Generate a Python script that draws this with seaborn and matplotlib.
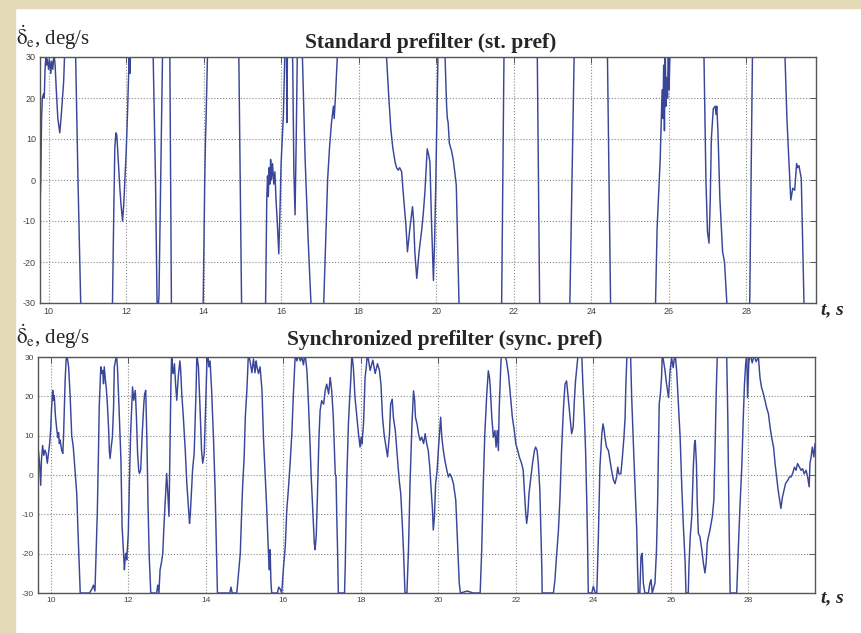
import matplotlib
matplotlib.use('Agg')
from matplotlib import pyplot as plt
from matplotlib.patches import Rectangle
import seaborn as sns

# (time s, elevator rate deg/s); values beyond +-30 are clipped by the axes
std_points = [
    (9.78, -7), (9.80, 0), (9.82, 15), (9.84, 20), (9.87, 21), (9.89, 20), (9.91, 27), (9.93, 30),
    (9.95, 28), (9.98, 29.5), (10.00, 27), (10.03, 29), (10.06, 26), (10.08, 29), (10.11, 27),
    (10.14, 31), (10.17, 28), (10.20, 22), (10.24, 15), (10.29, 11.5), (10.33, 16), (10.36, 20),
    (10.39, 24), (10.42, 32), (10.50, 45), (10.65, 45), (10.70, 30), (10.76, 0), (10.83, -30),
    (10.90, -45), (11.55, -45), (11.65, -30), (11.68, -10), (11.71, 8), (11.74, 11.5), (11.76, 11),
    (11.78, 8), (11.81, 3), (11.84, -2), (11.87, -6), (11.91, -10), (11.94, -6), (11.97, 0),
    (12.00, 6), (12.03, 14), (12.06, 24), (12.08, 30), (12.10, 26), (12.12, 32), (12.20, 45),
    (12.60, 45), (12.70, 30), (12.76, 0), (12.80, -30), (12.82, -33), (12.85, -28), (12.94, 30),
    (13.00, 45), (13.08, 45), (13.13, 30), (13.17, -30), (13.25, -45), (13.90, -45), (13.99, -30),
    (14.03, 0), (14.05, 10), (14.06, 13), (14.10, 30), (14.20, 45), (14.85, 45), (14.91, 30),
    (14.98, -30), (15.05, -45), (15.52, -45), (15.60, -30), (15.63, -5), (15.65, 1), (15.67, -4),
    (15.69, 3), (15.71, -1), (15.73, 5), (15.75, 0), (15.78, 4), (15.81, -1), (15.84, 2),
    (15.87, -5), (15.90, -10), (15.94, -18), (15.97, -8), (16.00, 4), (16.03, 10), (16.06, 16),
    (16.10, 32), (16.13, 45), (16.15, 14), (16.17, 40), (16.25, 45), (16.30, 28), (16.33, 2),
    (16.36, -8.5), (16.39, 10), (16.42, 32), (16.50, 40), (16.55, 30), (16.62, 5), (16.70, -15),
    (16.78, -32), (16.85, -45), (17.00, -45), (17.10, -30), (17.15, -15), (17.20, 0), (17.25, 8),
    (17.30, 14), (17.35, 18), (17.37, 15), (17.40, 20), (17.45, 30), (17.50, 45), (18.65, 45),
    (18.72, 30), (18.78, 20), (18.83, 12.5), (18.88, 8), (18.94, 4.4), (18.98, 3), (19.02, 2.4),
    (19.06, 3), (19.11, 2), (19.15, -3), (19.22, -11), (19.26, -17.5), (19.32, -12), (19.39, -6.5),
    (19.42, -10), (19.45, -17.5), (19.50, -24), (19.56, -17.5), (19.63, -12), (19.67, -8),
    (19.71, -3), (19.77, 7.6), (19.81, 6), (19.84, 4.4), (19.88, -10), (19.93, -24.5), (19.96, -15),
    (19.99, -1.3), (20.02, 15), (20.05, 32), (20.10, 45), (20.18, 45), (20.23, 30), (20.27, 18),
    (20.29, 15), (20.31, 14), (20.34, 9), (20.37, 8), (20.40, 7), (20.44, 5), (20.48, 2),
    (20.52, -1.3), (20.59, -30), (20.65, -45), (21.60, -45), (21.69, -30), (21.75, 30), (21.80, 45),
    (22.55, 45), (22.61, 30), (22.67, -30), (22.75, -45), (23.35, -45), (23.45, -30), (23.56, 30),
    (23.65, 45), (24.35, 45), (24.42, 30), (24.50, -30), (24.60, -45), (25.55, -45), (25.66, -30),
    (25.70, -12), (25.75, -1), (25.78, 5), (25.80, 11.5), (25.83, 22), (25.85, 15), (25.87, 28),
    (25.89, 12), (25.91, 32), (25.93, 18), (25.95, 25), (25.97, 20), (25.99, 33), (26.01, 22),
    (26.03, 30), (26.05, 35), (26.10, 45), (26.85, 45), (26.91, 30), (26.96, 0), (27.00, -12.6),
    (27.04, -15.4), (27.07, -5.7), (27.10, 10), (27.15, 17.4), (27.20, 18), (27.22, 16),
    (27.24, 18), (27.27, 12), (27.32, -4.5), (27.39, -17.5), (27.44, -20), (27.50, -30),
    (27.60, -45), (28.00, -45), (28.09, -30), (28.16, 30), (28.25, 45), (28.90, 45), (29.00, 30),
    (29.05, 15), (29.09, 6.8), (29.15, -4.9), (29.20, -2), (29.25, -2.5), (29.30, 4), (29.33, 3),
    (29.36, 3.5), (29.42, 0.4), (29.49, -30), (29.55, -45), (29.80, -45),
]

sync_points = [
    (9.68, 6.3), (9.71, 3), (9.74, -2.6), (9.76, 4), (9.79, 7.5), (9.82, 5), (9.85, 6.3),
    (9.88, 5.5), (9.91, 3), (9.94, 5.5), (9.97, 8), (10.00, 12), (10.02, 17), (10.05, 21.5),
    (10.07, 19), (10.09, 20.2), (10.12, 15), (10.15, 12), (10.18, 9.5), (10.20, 10.8), (10.22, 8),
    (10.24, 8.9), (10.28, 6.3), (10.31, 5.5), (10.33, 10), (10.35, 17.3), (10.37, 24),
    (10.39, 28.3), (10.41, 31), (10.44, 29), (10.46, 27.5), (10.50, 20), (10.54, 10), (10.58, 7.2),
    (10.63, 0.4), (10.67, -4.7), (10.71, -16.5), (10.76, -30), (10.95, -30), (11.00, -30),
    (11.06, -29), (11.10, -28), (11.14, -29.5), (11.17, -19.9), (11.20, -9.7), (11.23, 5.5),
    (11.25, 17.3), (11.29, 27.5), (11.32, 25.8), (11.34, 26.6), (11.36, 23.2), (11.38, 27.5),
    (11.41, 24), (11.43, 22.4), (11.46, 18.1), (11.49, 12.2), (11.51, 6.3), (11.53, 4.2),
    (11.56, 7.2), (11.59, 9.7), (11.62, 17.3), (11.64, 27.5), (11.68, 29.6), (11.69, 31),
    (11.72, 27.5), (11.76, 17.3), (11.81, 3.8), (11.84, -13.1), (11.88, -20.7), (11.90, -24.1),
    (11.92, -21), (11.94, -19.9), (11.96, -21.6), (12.00, -14.8), (12.03, -1.3), (12.06, 10.6),
    (12.09, 18), (12.11, 22.4), (12.14, 19), (12.16, 20.3), (12.18, 21.5), (12.21, 14.8),
    (12.24, 5.5), (12.27, 1), (12.29, 0.4), (12.32, 1.3), (12.36, 10.6), (12.40, 18), (12.42, 20.6),
    (12.45, 21.5), (12.48, 8.9), (12.51, -8), (12.54, -20.7), (12.58, -30), (12.73, -30),
    (12.76, -28), (12.79, -30), (12.82, -24.1), (12.86, -22), (12.89, -19.9), (12.92, -13),
    (12.96, -5.5), (12.99, 0.4), (13.02, -4.7), (13.05, -10.5), (13.08, 8.9), (13.10, 23.2),
    (13.12, 31), (13.14, 27), (13.16, 25.8), (13.19, 28.3), (13.22, 23.2), (13.25, 19),
    (13.29, 25), (13.33, 29), (13.35, 27), (13.38, 20.6), (13.42, 14.8), (13.47, 6.3),
    (13.51, -2.1), (13.55, -8), (13.58, -12.3), (13.60, -10), (13.62, -6), (13.66, 1.5),
    (13.70, 5.5), (13.72, 12), (13.75, 22), (13.77, 31), (13.79, 29), (13.81, 27.5), (13.85, 17.3),
    (13.89, 6.3), (13.92, 3), (13.96, 5.5), (13.99, 15.5), (14.03, 29), (14.05, 31), (14.08, 27.5),
    (14.11, 29), (14.15, 21.5), (14.20, 8.9), (14.24, -3.8), (14.27, -16.5), (14.30, -30),
    (14.62, -30), (14.65, -28.5), (14.68, -30), (14.80, -30), (14.89, -19.9), (14.93, -8),
    (14.95, -3), (14.99, 4.6), (15.02, 14.8), (15.06, 21.5), (15.10, 31), (15.14, 29), (15.19, 26),
    (15.23, 29.5), (15.27, 26), (15.30, 29), (15.32, 27.5), (15.36, 25.8), (15.40, 27.5),
    (15.45, 21.5), (15.49, 8.9), (15.53, 0.4), (15.57, -8), (15.62, -20.7), (15.64, -24.1),
    (15.66, -19), (15.68, -27), (15.70, -30), (15.85, -30), (15.88, -28.5), (15.92, -29),
    (15.96, -30), (16.00, -24.1), (16.05, -18.2), (16.09, -8.9), (16.13, -3.8), (16.18, 3.7),
    (16.22, 10.5), (16.26, 20.6), (16.31, 31), (16.35, 29), (16.39, 30.5), (16.44, 29),
    (16.48, 30), (16.52, 28), (16.56, 31), (16.61, 26.5), (16.65, 18), (16.69, 7.9), (16.72, -0.5),
    (16.76, -8.9), (16.80, -17.3), (16.82, -19), (16.85, -15.5), (16.88, -5.5), (16.92, 9.6),
    (16.95, 16.4), (16.99, 18.9), (17.04, 18), (17.08, 21.4), (17.12, 23.1), (17.17, 20.6),
    (17.21, 24.8), (17.25, 21.4), (17.29, 14.7), (17.34, 0.3), (17.36, -0.5), (17.38, -10.6),
    (17.40, -19), (17.42, -30), (17.58, -30), (17.60, -22.4), (17.62, -10.6), (17.64, -0.5),
    (17.66, 6.3), (17.68, 13), (17.71, 18.9), (17.74, 24), (17.77, 31), (17.79, 29), (17.81, 27),
    (17.85, 19.7), (17.90, 14.7), (17.94, 10.5), (17.98, 7.1), (18.01, 9.6), (18.03, 7.9),
    (18.07, 13), (18.11, 24.8), (18.14, 27.3), (18.17, 31), (18.24, 26.6), (18.31, 29.2),
    (18.37, 25.8), (18.43, 28.3), (18.48, 26.6), (18.52, 23), (18.56, 14.7), (18.60, 10.5),
    (18.65, 7.1), (18.69, 4.6), (18.74, 10.5), (18.77, 18), (18.81, 19.3), (18.84, 14.7),
    (18.89, 11.3), (18.93, 6.2), (18.97, 1.2), (19.00, -2.2), (19.03, -4.7), (19.07, -12.3),
    (19.10, -19), (19.13, -27.5), (19.14, -30), (19.19, -30), (19.23, -19), (19.27, -2.2),
    (19.32, 13), (19.36, 21.4), (19.39, 18.9), (19.41, 14.7), (19.45, 13), (19.49, 10.5),
    (19.53, 8.8), (19.57, 9.6), (19.62, 8), (19.66, 10.5), (19.70, 8), (19.74, 6.2), (19.78, 2),
    (19.81, -3), (19.85, -8.9), (19.87, -14), (19.90, -10.6), (19.93, -2.2), (19.97, 1.2),
    (20.00, 6.2), (20.03, 10.5), (20.06, 14.7), (20.09, 9.6), (20.13, 6.2), (20.17, 3.7),
    (20.22, 1.2), (20.26, -0.5), (20.30, 0.3), (20.34, -0.5), (20.39, -2.2), (20.45, -6.4),
    (20.49, -15.7), (20.52, -22.4), (20.54, -27.5), (20.57, -30), (20.75, -29.5), (20.90, -30),
    (21.08, -30), (21.12, -19), (21.16, -2.2), (21.20, 10.5), (21.25, 20.6), (21.29, 26.5),
    (21.32, 24.8), (21.34, 22.3), (21.38, 14.7), (21.42, 9.6), (21.46, 11.3), (21.49, 7.1),
    (21.52, 11.3), (21.55, 6.2), (21.57, 16.4), (21.61, 27.3), (21.63, 31), (21.72, 30.5),
    (21.76, 29), (21.81, 25.6), (21.85, 21.4), (21.91, 14.7), (21.96, 11.3), (22.00, 7.9),
    (22.05, 6.2), (22.09, 4.6), (22.15, 2.9), (22.19, 1.2), (22.22, -3.9), (22.25, -8.9),
    (22.28, -12.3), (22.31, -9.8), (22.34, -4.7), (22.39, -0.5), (22.43, 2.9), (22.48, 6.2),
    (22.51, 7.1), (22.55, 6.2), (22.58, 2.9), (22.62, -3.9), (22.65, -15.7), (22.67, -23.3),
    (22.68, -30), (22.97, -30), (23.01, -26.6), (23.05, -20.7), (23.10, -14), (23.14, -5.6),
    (23.18, 6.2), (23.23, 17.2), (23.27, 23.1), (23.31, 23.9), (23.35, 19.7), (23.40, 14.7),
    (23.44, 10.5), (23.48, 12.2), (23.51, 18.9), (23.54, 23.9), (23.58, 28.1), (23.61, 31),
    (23.70, 31), (23.73, 23.1), (23.77, 14.7), (23.80, 6.2), (23.83, -6.4), (23.85, -16.5),
    (23.87, -30), (23.96, -30), (24.00, -28.3), (24.05, -30), (24.09, -30), (24.13, -15.7),
    (24.17, 2), (24.22, 10.5), (24.25, 13), (24.28, 11.3), (24.30, 9.6), (24.34, 7.1), (24.39, 6.2),
    (24.43, 3.7), (24.47, 1.2), (24.52, -1.3), (24.56, -2.2), (24.60, -0.5), (24.63, 2),
    (24.66, 0.3), (24.71, 0.3), (24.75, 4.6), (24.79, 9.6), (24.82, 14.7), (24.84, 23.1),
    (24.87, 31), (24.96, 31), (24.99, 19.7), (25.03, 8.8), (25.08, -3.9), (25.12, -14),
    (25.14, -23.3), (25.16, -30), (25.20, -30), (25.23, -20.7), (25.26, -19.9), (25.29, -27.5),
    (25.33, -30), (25.42, -30), (25.46, -27.5), (25.49, -26.6), (25.52, -30), (25.59, -27.5),
    (25.63, -19), (25.66, -6.4), (25.68, 6.2), (25.70, 18), (25.73, 20.6), (25.76, 24.8),
    (25.78, 31), (25.85, 26.5), (25.89, 23.1), (25.94, 19.7), (25.98, 26.5), (26.02, 29.8),
    (26.06, 27.3), (26.11, 31), (26.15, 26.5), (26.19, 18.9), (26.24, 9.6), (26.28, -2.2),
    (26.32, -12.3), (26.37, -22.4), (26.39, -30), (26.45, -30), (26.47, -22.4), (26.50, -15.7),
    (26.54, -10.6), (26.58, 2), (26.61, 7.9), (26.63, 8.8), (26.66, 3), (26.68, -6.4),
    (26.71, -14.8), (26.75, -15.7), (26.80, -19), (26.84, -22.4), (26.88, -24.9), (26.91, -22.4),
    (26.94, -17.3), (26.97, -15.7), (27.01, -14), (27.04, -12.3), (27.07, -10.6), (27.11, -6.4),
    (27.14, 6.2), (27.17, 20.6), (27.20, 31), (27.44, 31), (27.47, 14.7), (27.50, -10.6),
    (27.53, -30), (27.70, -30), (27.74, -19), (27.78, -8.9), (27.83, 2), (27.87, 14.7),
    (27.90, 23.1), (27.93, 28.1), (27.96, 31), (27.98, 19.7), (28.01, 28.1), (28.04, 31),
    (28.10, 28.5), (28.15, 30.5), (28.20, 28.8), (28.26, 30), (28.30, 24.8), (28.34, 22.3),
    (28.39, 20.6), (28.43, 18.9), (28.47, 17.2), (28.52, 15.5), (28.56, 12.2), (28.60, 9.6),
    (28.65, 7.1), (28.69, 2.9), (28.73, -0.5), (28.77, -3.9), (28.82, -7.2), (28.84, -8.5),
    (28.88, -5.6), (28.92, -3.9), (28.96, -2.2), (29.02, -1.3), (29.06, -0.5), (29.10, -0.5),
    (29.14, 0.3), (29.19, 2), (29.23, 1.2), (29.27, 2.9), (29.32, 2), (29.36, 1.2), (29.40, 1.6),
    (29.44, 0.3), (29.49, 1.2), (29.53, -0.5), (29.57, -3), (29.59, 2.9), (29.62, 4.6),
    (29.65, 7.1), (29.69, 4.6), (29.72, 8),
]

x_ticks = [10, 12, 14, 16, 18, 20, 22, 24, 26, 28]
y_ticks = [-30, -20, -10, 0, 10, 20, 30]
titles = ['Standard prefilter (st. pref)', 'Synchronized prefilter (sync. pref)']
y_label = r'$\dot{\mathrm{\delta}}_{\mathrm{e}}$, deg/s'
x_label = 't, s'

LINE = '#3a4699'
W, H = 862, 633

sns.set_style('white')
plt.rcParams['font.family'] = ['Liberation Serif', 'DejaVu Serif']
plt.rcParams['mathtext.fontset'] = 'stix'
plt.rcParams['axes.unicode_minus'] = False

fig = plt.figure(figsize=(W / 100, H / 100), dpi=100)
fig.patch.set_facecolor('white')
# beige frame strips on the left and top
fig.add_artist(Rectangle((0, 0), 15 / W, 1, transform=fig.transFigure, color='#e3d9b6', zorder=-5))
fig.add_artist(Rectangle((0, 1 - 8 / H), 1, 8 / H, transform=fig.transFigure, color='#e3d9b6', zorder=-5))


def panel(rect, points, xlim, labelsize):
    ax = fig.add_axes(rect)
    t = [p[0] for p in points]
    d = [p[1] for p in points]
    sns.lineplot(x=t, y=d, ax=ax, color=LINE, lw=1.05, estimator=None, sort=False)
    ax.set_xlim(xlim)
    ax.set_ylim(-30, 30)
    ax.set_xticks(x_ticks)
    ax.set_yticks(y_ticks)
    ax.grid(True, ls=':', color='#8a8a8a', lw=0.8)
    ax.tick_params(direction='in', length=4, width=0.7, top=True, right=True,
                   labelsize=labelsize, labelcolor='#444444', color='#555555', pad=3)
    for lab in ax.get_xticklabels() + ax.get_yticklabels():
        lab.set_fontfamily('Liberation Sans')
    for sp in ax.spines.values():
        sp.set_color('#555555')
        sp.set_linewidth(1.0)
    ax.set_xlabel('')
    ax.set_ylabel('')
    return ax


ax1 = panel([40 / W, 1 - 303 / H, 776 / W, 246 / H], std_points, (9.78, 29.8), 6.5)
ax2 = panel([38 / W, 1 - 593 / H, 777 / W, 236 / H], sync_points, (9.67, 29.72), 6)

ax1.text(0.504, 1.037, titles[0], transform=ax1.transAxes, ha='center', va='baseline',
         fontsize=15.5, fontweight='bold')
ax2.text(0.524, 1.05, titles[1], transform=ax2.transAxes, ha='center', va='baseline',
         fontsize=15.5, fontweight='bold')

fig.text(16 / W, 1 - 45 / H, y_label, fontsize=15, va='baseline')
fig.text(16 / W, 1 - 344 / H, y_label, fontsize=15, va='baseline')
fig.text(821 / W, 1 - 314 / H, x_label, fontsize=14, fontweight='bold', style='italic', va='baseline')
fig.text(821 / W, 1 - 602 / H, x_label, fontsize=14, fontweight='bold', style='italic', va='baseline')

fig.savefig('out.png', dpi=100)
